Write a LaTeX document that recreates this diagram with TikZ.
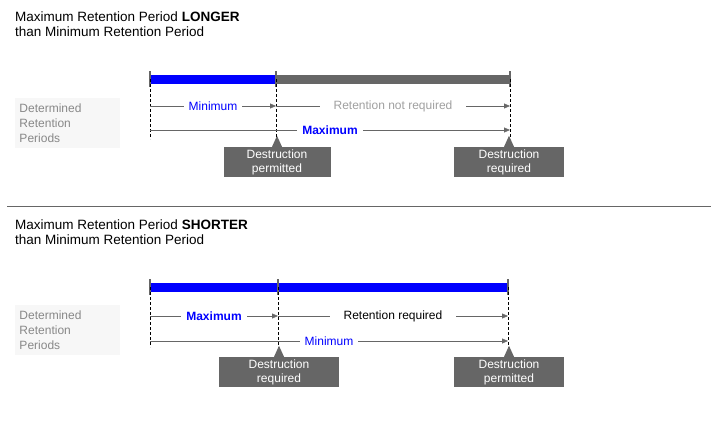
\documentclass[tikz,border=0pt]{standalone}
\usepackage{fontspec}
\setmainfont{Liberation Sans}
\usetikzlibrary{arrows.meta,positioning,shapes.geometric}
\definecolor{bargray}{HTML}{666666}
\definecolor{labelgray}{HTML}{888888}
\definecolor{boxgray}{HTML}{F7F7F7}
\begin{document}
\begin{tikzpicture}[x=1pt,y=-1pt,
	title/.style={anchor=north west, align=left, font=\fontsize{13.5}{15}\selectfont, inner sep=0pt},
	period/.style={fill=boxgray, text=labelgray, minimum width=105pt, minimum height=50pt, align=left, font=\fontsize{12}{15}\selectfont, text width=95pt},
	span/.style={draw=bargray, -{Triangle[length=6pt,width=5pt]}},
	spanlabel/.style={fill=white, font=\fontsize{12}{13}\selectfont, inner sep=5pt},
	callout/.style={fill=bargray, text=white, minimum width=107pt, minimum height=30pt, align=center, font=\fontsize{12}{14}\selectfont, inner sep=1pt},
	tick/.style={draw=bargray, line width=2pt},
	guide/.style={draw=black, dashed, dash pattern=on 3pt off 2pt}]
	% Define the size of the picture
	\useasboundingbox (0,0) rectangle (720,425);

	% Upper panel
	\node[title] (titleA) at (15,12) {Maximum Retention Period \textbf{LONGER}\\than Minimum Retention Period};
	\node[period] (periodsA) at (67,123) {Determined\\Retention\\Periods};
	\coordinate (startA) at (150,79);
	\coordinate (minA) at (276,79);
	\coordinate (maxA) at (510,79);
	\fill[blue] (150,75) rectangle (276,84);
	\fill[bargray] (276,75) rectangle (510,84);
	\foreach \p in {startA,minA,maxA}
		\draw[tick] ([yshift=-8pt]\p) -- ([yshift=8pt]\p);
	\node[callout] (destA) at (277,162) {Destruction\\permitted};
	\node[callout, minimum width=110pt] (destB) at (509,162) {Destruction\\required};
	\fill[bargray] ([xshift=-5pt]destA.north) -- ([yshift=11pt]destA.north) -- ([xshift=5pt]destA.north) -- cycle;
	\fill[bargray] ([xshift=-5pt]destB.north) -- ([yshift=11pt]destB.north) -- ([xshift=5pt]destB.north) -- cycle;
	\draw[guide] (startA) -- ++(0,60);
	\draw[guide] (minA) -- ++(0,60);
	\draw[guide] (maxA) -- ++(0,60);
	\draw[span] ([yshift=-27pt]startA) -- node[spanlabel, text=blue] {Minimum} ([yshift=-27pt]minA);
	\draw[span] ([yshift=-27pt]minA) -- node[spanlabel, text=labelgray!80, inner xsep=14pt] {Retention not required} ([yshift=-27pt]maxA);
	\draw[span] ([yshift=-51pt]startA) -- node[spanlabel, text=blue, font=\fontsize{12}{13}\selectfont\bfseries] {Maximum} ([yshift=-51pt]maxA);

	% Separator
	\draw[bargray] (7,206) -- (711,206);

	% Lower panel
	\node[title] (titleB) at (15,220) {Maximum Retention Period \textbf{SHORTER}\\than Minimum Retention Period};
	\node[period] (periodsB) at (67,330) {Determined\\Retention\\Periods};
	\coordinate (startB) at (150,287);
	\coordinate (maxB) at (278,287);
	\coordinate (minB) at (508,287);
	\fill[blue] (150,283) rectangle (508,292);
	\foreach \p in {startB,maxB,minB}
		\draw[tick] ([yshift=-8pt]\p) -- ([yshift=8pt]\p);
	\node[callout, minimum width=120pt] (destC) at (279,372) {Destruction\\required};
	\node[callout, minimum width=110pt] (destD) at (509,372) {Destruction\\permitted};
	\fill[bargray] ([xshift=-5pt]destC.north) -- ([yshift=11pt]destC.north) -- ([xshift=5pt]destC.north) -- cycle;
	\fill[bargray] ([xshift=-5pt]destD.north) -- ([yshift=11pt]destD.north) -- ([xshift=5pt]destD.north) -- cycle;
	\draw[guide] (startB) -- ++(0,60);
	\draw[guide] (maxB) -- ++(0,60);
	\draw[guide] (minB) -- ++(0,60);
	\draw[span] ([yshift=-29pt]startB) -- node[spanlabel, text=blue, font=\fontsize{12}{13}\selectfont\bfseries] {Maximum} ([yshift=-29pt]maxB);
	\draw[span] ([yshift=-29pt]maxB) -- node[spanlabel, inner xsep=14pt] {Retention required} ([yshift=-29pt]minB);
	\draw[span] ([yshift=-54pt]startB) -- node[spanlabel, text=blue] {Minimum} ([yshift=-54pt]minB);
\end{tikzpicture}
\end{document}
